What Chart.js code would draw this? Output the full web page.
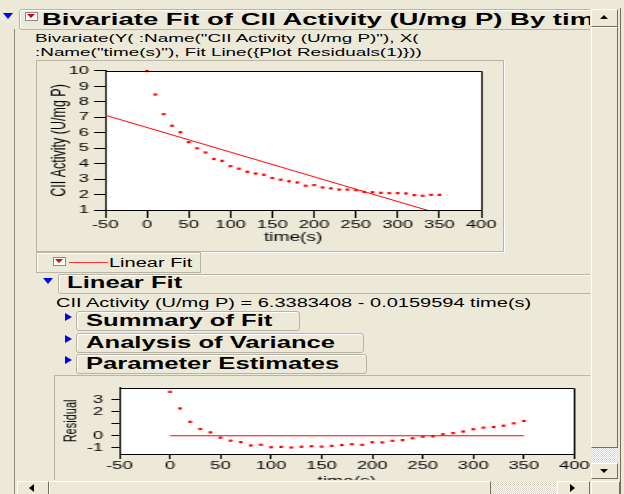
<!DOCTYPE html>
<html>
<head>
<meta charset="utf-8">
<script src="https://cdn.jsdelivr.net/npm/chart.js@4.4.1/dist/chart.umd.min.js"></script>
<style>
html, body { margin: 0; padding: 0; }
body {
  width: 624px; height: 494px; overflow: hidden; position: relative;
  background: #ECE9D8; color: #000;
  font-family: "Liberation Sans", Arial, sans-serif;
}
.a { position: absolute; }
/* the screenshot is stretched sideways, so text and plots are too */
.s { position: absolute; white-space: nowrap; line-height: 1; transform: scaleX(1.6); transform-origin: 0 0; }
.hb { font-weight: bold; font-size: 16px; }
.tx { font-size: 12.5px; }
.box { position: absolute; border: 1px solid #b8b5a6; border-radius: 3px; box-shadow: inset 1px 1px 0 #fff; }
.frame { position: absolute; border: 1px solid #b8b5a6; box-shadow: 1px 1px 0 #fff; }
.tri-d { position: absolute; width: 0; height: 0; border-left: 5px solid transparent; border-right: 5px solid transparent; border-top: 6px solid #0000ee; }
.tri-r { position: absolute; width: 0; height: 0; border-top: 4px solid transparent; border-bottom: 4px solid transparent; border-left: 7px solid #0000ee; }
.icon { position: absolute; width: 11px; height: 7px; border: 1px solid #8a8a8a; background: #fff; }
.icon:after { content: ""; position: absolute; left: 1px; top: 1px; border-left: 4px solid transparent; border-right: 4px solid transparent; border-top: 4px solid #e00000; }
.btn { position: absolute; background: #ECE9D8; border-top: 1px solid #fff; border-left: 1px solid #fff; border-right: 1px solid #716f64; border-bottom: 1px solid #716f64; box-sizing: border-box; }
.dither { position: absolute; background: repeating-conic-gradient(#fff 0 25%, #d8d5c6 0 50%) 0 0 / 2px 2px; }
.arr { position: absolute; width: 0; height: 0; }
</style>
</head>
<body>

<!-- window edges -->
<div class="a" style="left:14px;top:29px;width:1px;height:465px;background:#8f8d80"></div>
<div class="a" style="left:620px;top:8px;width:1px;height:486px;background:#716f64"></div>

<!-- report title -->
<div class="tri-d" style="left:3px;top:13px"></div>
<div class="box" style="left:19px;top:9px;width:573px;height:19px;overflow:hidden">
  <div class="s hb" style="left:22px;top:1px;font-size:17.2px">Bivariate Fit of CII Activity (U/mg P) By time(s)</div>
</div>
<div class="icon" style="left:25px;top:12px"></div>
<div class="s tx" style="left:35px;top:33px;font-size:11.8px">Bivariate(Y( :Name("CII Activity (U/mg P)"), X(</div>
<div class="s tx" style="left:35px;top:47px;font-size:11.8px">:Name("time(s)"), Fit Line({Plot Residuals(1)}))</div>

<!-- main plot -->
<div class="frame" style="left:36px;top:60px;width:466px;height:190px"></div>
<div class="a" style="left:38px;top:61px;transform:scaleX(1.6);transform-origin:0 0">
  <canvas id="fitChart" width="288" height="189"></canvas>
</div>

<!-- legend -->
<div class="box" style="left:36px;top:252px;width:163px;height:19px;border-radius:0"></div>
<div class="icon" style="left:53px;top:257px"></div>
<div class="a" style="left:69px;top:262px;width:39px;height:1px;background:#ff3030"></div>
<div class="s tx" style="left:109px;top:257px">Linear Fit</div>

<!-- Linear Fit outline -->
<div class="tri-d" style="left:43px;top:278px"></div>
<div class="box" style="left:58px;top:274px;width:560px;height:18px"></div>
<div class="s hb" style="left:67px;top:275px">Linear Fit</div>
<div class="s tx" style="left:56px;top:297px">CII Activity (U/mg P) = 6.3383408 - 0.0159594 time(s)</div>

<div class="tri-r" style="left:65px;top:313px"></div>
<div class="box" style="left:76px;top:311px;width:222px;height:18px"></div>
<div class="s hb" style="left:86px;top:313px">Summary of Fit</div>

<div class="tri-r" style="left:65px;top:335px"></div>
<div class="box" style="left:76px;top:333px;width:286px;height:18px"></div>
<div class="s hb" style="left:86px;top:335px">Analysis of Variance</div>

<div class="tri-r" style="left:65px;top:356px"></div>
<div class="box" style="left:76px;top:354px;width:289px;height:18px"></div>
<div class="s hb" style="left:86px;top:356px">Parameter Estimates</div>

<!-- residual plot -->
<div class="frame" style="left:54px;top:375px;width:560px;height:140px"></div>
<div class="a" style="left:57px;top:376px;transform:scaleX(1.6);transform-origin:0 0">
  <canvas id="residChart" width="333" height="118"></canvas>
</div>

<!-- vertical scrollbar -->
<div class="a" style="left:590px;top:8px;width:30px;height:472px;background:#ECE9D8"></div>
<div class="btn" style="left:591px;top:9px;width:27px;height:18px"></div>
<div class="arr" style="left:600px;top:15px;border-left:4px solid transparent;border-right:4px solid transparent;border-bottom:4px solid #000"></div>
<div class="btn" style="left:591px;top:27px;width:27px;height:421px"></div>
<div class="dither" style="left:591px;top:448px;width:27px;height:15px"></div>
<div class="btn" style="left:591px;top:463px;width:27px;height:16px"></div>
<div class="arr" style="left:600px;top:469px;border-left:4px solid transparent;border-right:4px solid transparent;border-top:4px solid #000"></div>

<!-- horizontal scrollbar -->
<div class="a" style="left:15px;top:480px;width:605px;height:14px;background:#ECE9D8"></div>
<div class="btn" style="left:17px;top:481px;width:32px;height:14px"></div>
<div class="arr" style="left:29px;top:484px;border-top:4px solid transparent;border-bottom:4px solid transparent;border-right:5px solid #000"></div>
<div class="btn" style="left:49px;top:481px;width:442px;height:14px"></div>
<div class="dither" style="left:491px;top:481px;width:66px;height:13px"></div>
<div class="btn" style="left:557px;top:481px;width:33px;height:14px"></div>
<div class="arr" style="left:570px;top:484px;border-top:4px solid transparent;border-bottom:4px solid transparent;border-left:5px solid #000"></div>
<div class="btn" style="left:591px;top:481px;width:29px;height:14px"></div>

<script>
// data
const times = [0, 10, 20, 30, 40, 50, 60, 70, 80, 90, 100, 110, 120, 130, 140, 150, 160, 170,
  180, 190, 200, 210, 220, 230, 240, 250, 260, 270, 280, 290, 300, 310, 320, 330, 340, 350];
const activity = [9.99, 8.47, 7.2, 6.45, 6.03, 5.39, 4.99, 4.72, 4.30, 4.18, 3.84, 3.67, 3.47, 3.36,
  3.28, 3.07, 2.96, 2.86, 2.78, 2.57, 2.61, 2.46, 2.40, 2.32, 2.32, 2.28, 2.17, 2.15, 2.11, 2.09,
  2.09, 2.07, 1.96, 1.92, 1.98, 1.98];
const residuals = [3.63, 2.26, 1.15, 0.56, 0.28, -0.16, -0.41, -0.53, -0.8, -0.75, -0.95, -0.92,
  -0.97, -0.91, -0.87, -0.9, -0.84, -0.77, -0.7, -0.75, -0.54, -0.55, -0.42, -0.36, -0.21, -0.08,
  -0.04, 0.12, 0.22, 0.35, 0.54, 0.67, 0.72, 0.83, 1.03, 1.22];
const fitIntercept = 6.3383408;
const fitSlope = -0.0159594;
const fitRange = [-50, 350];
const zeroRange = [0, 350];

const timeTicks = [-50, 0, 50, 100, 150, 200, 250, 300, 350, 400];
const activityTicks = [1, 2, 3, 4, 5, 6, 7, 8, 9, 10];
const residualTicks = [-1, 0, 1, 2, 3];
const residualTickLabels = ['-1', '0', '', '2', '3'];

const FONT = '"Liberation Sans", Arial, sans-serif';
const RED = '#ff0000';

// white plot background plus the black box round it
const plotFrame = {
  id: 'plotFrame',
  beforeDraw(chart) {
    const { ctx, chartArea: a } = chart;
    ctx.save();
    ctx.fillStyle = '#fff';
    ctx.fillRect(a.left, a.top, a.width, a.height);
    ctx.restore();
  },
  afterDraw(chart) {
    const { ctx, chartArea: a } = chart;
    ctx.save();
    ctx.strokeStyle = '#000';
    ctx.lineWidth = 1;
    ctx.beginPath();
    ctx.moveTo(Math.round(a.left), Math.round(a.top) + 0.5);
    ctx.lineTo(Math.round(a.right) + 0.5, Math.round(a.top) + 0.5);
    ctx.lineTo(Math.round(a.right) + 0.5, Math.round(a.bottom));
    ctx.stroke();
    ctx.restore();
  }
};

function axis(opts) {
  return {
    type: 'linear',
    min: opts.min,
    max: opts.max,
    afterBuildTicks: s => { s.ticks = opts.ticks.map(v => ({ value: v })); },
    afterFit: s => { if (opts.width) s.width = opts.width; if (opts.height) s.height = opts.height; },
    grid: { display: true, drawOnChartArea: false, drawTicks: true, tickLength: opts.tickLength, tickColor: '#000', color: '#000' },
    border: { display: true, color: '#000', width: 1 },
    ticks: {
      color: '#000', font: { family: FONT, size: 11.5 }, padding: opts.pad,
      autoSkip: false, maxRotation: 0,
      callback: opts.labels || (v => String(v))
    },
    title: { display: true, text: opts.title, color: '#000', font: { family: FONT, size: opts.titleSize || 12 }, padding: opts.titlePad }
  };
}

new Chart(document.getElementById('fitChart'), {
  type: 'scatter',
  data: {
    datasets: [
      {
        data: fitRange.map(t => ({ x: t, y: fitIntercept + fitSlope * t })),
        showLine: true, borderColor: RED, borderWidth: 1, pointRadius: 0
      },
      {
        data: times.map((t, i) => ({ x: t, y: activity[i] })),
        pointStyle: 'rect', pointRadius: 1.6, pointBorderWidth: 0,
        backgroundColor: RED, borderColor: RED, clip: false
      }
    ]
  },
  options: {
    responsive: false, animation: false, devicePixelRatio: 1,
    layout: { padding: { left: 0, right: 11, top: 6, bottom: 0 } },
    plugins: { legend: { display: false }, tooltip: { enabled: false } },
    scales: {
      x: axis({ min: -50, max: 400, ticks: timeTicks, height: 40, tickLength: 8, pad: 0,
        title: 'time(s)', titlePad: { top: 0, bottom: 5 } }),
      y: axis({ min: 1, max: 10, ticks: activityTicks, width: 42, tickLength: 7, pad: 3,
        title: 'CII Activity (U/mg P)', titleSize: 12.5, titlePad: { top: 6, bottom: 0 } })
    }
  },
  plugins: [plotFrame]
});

new Chart(document.getElementById('residChart'), {
  type: 'scatter',
  data: {
    datasets: [
      {
        data: zeroRange.map(t => ({ x: t, y: 0 })),
        showLine: true, borderColor: RED, borderWidth: 1, pointRadius: 0
      },
      {
        data: times.map((t, i) => ({ x: t, y: residuals[i] })),
        pointStyle: 'rect', pointRadius: 1.6, pointBorderWidth: 0,
        backgroundColor: RED, borderColor: RED, clip: false
      }
    ]
  },
  options: {
    responsive: false, animation: false, devicePixelRatio: 1,
    layout: { padding: { left: 0, right: 8, top: 6, bottom: 0 } },
    plugins: { legend: { display: false }, tooltip: { enabled: false } },
    scales: {
      x: axis({ min: -50, max: 400, ticks: timeTicks, height: 40, tickLength: 5, pad: 0,
        title: 'time(s)', titlePad: { top: 0, bottom: 5 } }),
      y: axis({ min: -1.51, max: 3.96, ticks: residualTicks, width: 39, tickLength: 5, pad: 5,
        labels: (v, i) => residualTickLabels[i],
        title: 'Residual', titleSize: 11, titlePad: { top: 2, bottom: 0 } })
    }
  },
  plugins: [plotFrame]
});
</script>
</body>
</html>
